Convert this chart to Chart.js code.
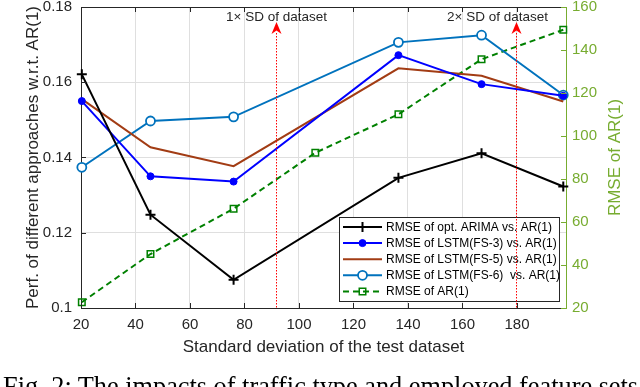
<!DOCTYPE html>
<html>
<head>
<meta charset="utf-8">
<script src="https://cdn.jsdelivr.net/npm/chart.js@4.4.0/dist/chart.umd.min.js"></script>
<style>
  html, body { margin: 0; padding: 0; background: #fff; }
  #wrap { position: relative; width: 640px; height: 387px; overflow: hidden; }
  #caption { position: absolute; left: 3px; top: 374px; line-height: 1; font-family: "Liberation Serif", "DejaVu Serif", serif; font-size: 26.3px; white-space: nowrap; color: #000; }
</style>
</head>
<body>
<div id="wrap">
  <canvas id="myChart" width="640" height="387"></canvas>
  <div id="caption">Fig. 2: The impacts of traffic type and employed feature sets</div>
</div>
<script>
// values
var sdPoints   = [20.3, 45.5, 76, 136.5, 167, 197];
var sdPointsAr = [20.3, 45.5, 76, 106, 136.5, 167, 197];
var arimaVsAr  = [0.1621, 0.1248, 0.1075, 0.1346, 0.1411, 0.1323];
var lstm3VsAr  = [0.1550, 0.1350, 0.1336, 0.1672, 0.1595, 0.1564];
var lstm5VsAr  = [0.1555, 0.1427, 0.1377, 0.1637, 0.1617, 0.1549];
var lstm6VsAr  = [0.1374, 0.1497, 0.1508, 0.1706, 0.1725, 0.1566];
var rmseAr     = [22.7, 45.1, 66.2, 92.2, 110.1, 135.7, 149.4];

var sdMarks      = [91.7, 179.5];
var sdMarkLabels = ['1\u00d7 SD of dataset', '2\u00d7 SD of dataset'];

var xTicks      = [20, 40, 60, 80, 100, 120, 140, 160, 180];
var yTicks      = [0.1, 0.12, 0.14, 0.16, 0.18];
var yTickLabels = ['0.1', '0.12', '0.14', '0.16', '0.18'];
var y2Ticks     = [20, 40, 60, 80, 100, 120, 140, 160];

var FONT = '"Liberation Sans", Arial, sans-serif';
var AXIS = '#262626';
var GRID = '#dfdfdf';
var GREEN_AXIS = '#77AC30';

function pairs(xs, ys) {
    return ys.map((v, i) => ({ x: xs[i], y: v }));
}

function setTicks(list) {
    return function (scale) {
        scale.ticks = list.map(v => ({ value: v }));
    };
}

// fixed box sizes so the plot area lands where the figure has it
function fitWidth(w) {
    return function (s) {
        s.width = w;
        s.paddingTop = 0;
        s.paddingBottom = 0;
    };
}

var overlay = {
    id: 'overlay',
    afterDraw: function (chart) {
        var ctx = chart.ctx;
        var area = chart.chartArea;
        var xs = chart.scales.x, ys = chart.scales.y, y2 = chart.scales.y2;

        ctx.save();
        // top frame
        ctx.strokeStyle = AXIS;
        ctx.lineWidth = 1;
        ctx.beginPath();
        ctx.moveTo(area.left, area.top + 0.5);
        ctx.lineTo(area.right, area.top + 0.5);
        ctx.stroke();

        // inward ticks
        ctx.beginPath();
        xTicks.forEach(v => {
            var px = Math.round(xs.getPixelForValue(v)) + 0.5;
            ctx.moveTo(px, area.bottom); ctx.lineTo(px, area.bottom - 5);
            ctx.moveTo(px, area.top); ctx.lineTo(px, area.top + 5);
        });
        yTicks.forEach(v => {
            var py = Math.round(ys.getPixelForValue(v)) + 0.5;
            ctx.moveTo(area.left, py); ctx.lineTo(area.left + 5, py);
        });
        ctx.stroke();
        ctx.strokeStyle = GREEN_AXIS;
        ctx.beginPath();
        y2Ticks.forEach(v => {
            var py = Math.round(y2.getPixelForValue(v)) + 0.5;
            ctx.moveTo(area.right, py); ctx.lineTo(area.right - 5, py);
        });
        ctx.stroke();

        // right axis title, reads bottom to top
        ctx.fillStyle = GREEN_AXIS;
        ctx.font = '17px ' + FONT;
        ctx.textAlign = 'center';
        ctx.textBaseline = 'middle';
        ctx.translate(615, (area.top + area.bottom) / 2);
        ctx.rotate(-Math.PI / 2);
        ctx.fillText('RMSE of AR(1)', 0, 0);
        ctx.restore();

        drawLegend(chart);

        // SD markers
        ctx.save();
        ctx.font = '13.5px ' + FONT;
        ctx.textAlign = 'center';
        ctx.textBaseline = 'middle';
        sdMarks.forEach((v, i) => {
            var px = Math.round(xs.getPixelForValue(v)) + 0.5;
            ctx.strokeStyle = '#ff0000';
            ctx.lineWidth = 1;
            ctx.setLineDash([1.5, 1.5]);
            ctx.beginPath();
            ctx.moveTo(px, area.top + 26);
            ctx.lineTo(px, area.bottom);
            ctx.stroke();
            ctx.setLineDash([]);
            ctx.fillStyle = '#ff0000';
            ctx.beginPath();
            ctx.moveTo(px, area.top + 15);
            ctx.lineTo(px + 5, area.top + 27);
            ctx.lineTo(px, area.top + 23.5);
            ctx.lineTo(px - 5, area.top + 27);
            ctx.closePath();
            ctx.fill();
            var w = ctx.measureText(sdMarkLabels[i]).width;
            var cx = Math.min(px, area.right - 18 - w / 2);
            ctx.fillStyle = AXIS;
            ctx.fillText(sdMarkLabels[i], cx, area.top + 10);
        });
        ctx.restore();
    }
};

function drawLegend(chart) {
    var ctx = chart.ctx;
    var area = chart.chartArea;
    var w = 220, h = 84;
    var x0 = area.right - 7 - w, y0 = area.bottom - 7 - h;
    ctx.save();
    ctx.fillStyle = '#fff';
    ctx.fillRect(x0, y0, w, h);
    ctx.strokeStyle = AXIS;
    ctx.lineWidth = 1;
    ctx.strokeRect(Math.round(x0) + 0.5, Math.round(y0) + 0.5, w, h);
    ctx.font = '12px ' + FONT;
    ctx.textBaseline = 'middle';
    chart.data.datasets.forEach((ds, i) => {
        var cy = y0 + 10 + i * 16.1;
        ctx.strokeStyle = ds.borderColor;
        ctx.lineWidth = ds.borderWidth;
        ctx.setLineDash(ds.borderDash || []);
        ctx.beginPath();
        ctx.moveTo(x0 + 4, cy);
        ctx.lineTo(x0 + 43, cy);
        ctx.stroke();
        ctx.setLineDash([]);
        if (ds.pointRadius > 0) {
            ctx.fillStyle = ds.pointBackgroundColor;
            ctx.lineWidth = ds.pointBorderWidth;
            Chart.helpers.drawPoint(ctx, {
                pointStyle: ds.pointStyle,
                radius: ds.pointRadius,
                rotation: 0,
                borderWidth: ds.pointBorderWidth
            }, x0 + 23.5, cy);
        }
        ctx.fillStyle = '#000';
        ctx.fillText(ds.label, x0 + 47, cy + 0.5);
    });
    ctx.restore();
}

function createChart() {
    var ctx = document.getElementById('myChart').getContext('2d');
    return new Chart(ctx, {
        type: 'line',
        data: {
            datasets: [{
                label: 'RMSE of opt. ARIMA vs. AR(1)',
                data: pairs(sdPoints, arimaVsAr),
                yAxisID: 'y',
                borderColor: '#000000',
                borderWidth: 2,
                pointStyle: 'cross',
                pointRadius: 5,
                pointBorderWidth: 2,
                pointBorderColor: '#000000',
                pointBackgroundColor: '#000000'
            }, {
                label: 'RMSE of LSTM(FS-3) vs. AR(1)',
                data: pairs(sdPoints, lstm3VsAr),
                yAxisID: 'y',
                borderColor: '#0000ff',
                borderWidth: 2,
                pointStyle: 'circle',
                pointRadius: 3.5,
                pointBorderWidth: 1,
                pointBorderColor: '#0000ff',
                pointBackgroundColor: '#0000ff'
            }, {
                label: 'RMSE of LSTM(FS-5) vs. AR(1)',
                data: pairs(sdPoints, lstm5VsAr),
                yAxisID: 'y',
                borderColor: '#a23c14',
                borderWidth: 2,
                pointRadius: 0,
                pointBorderWidth: 0,
                pointBackgroundColor: '#a23c14'
            }, {
                label: 'RMSE of LSTM(FS-6)  vs. AR(1)',
                data: pairs(sdPoints, lstm6VsAr),
                yAxisID: 'y',
                borderColor: '#0072bd',
                borderWidth: 2,
                pointStyle: 'circle',
                pointRadius: 4.5,
                pointBorderWidth: 1.8,
                pointBorderColor: '#0072bd',
                pointBackgroundColor: '#ffffff'
            }, {
                label: 'RMSE of AR(1)',
                data: pairs(sdPointsAr, rmseAr),
                yAxisID: 'y2',
                borderColor: '#008000',
                borderWidth: 2,
                borderDash: [6, 4],
                pointStyle: 'rect',
                pointRadius: 4.6,
                pointBorderWidth: 1.5,
                pointBorderColor: '#008000',
                pointBackgroundColor: 'rgba(0,0,0,0)'
            }]
        },
        options: {
            responsive: false,
            animation: false,
            layout: { padding: { top: 7, left: 0, right: 0, bottom: 0 } },
            elements: { line: { tension: 0 } },
            datasets: { line: { clip: false } },
            plugins: { legend: { display: false }, tooltip: { enabled: false } },
            scales: {
                x: {
                    type: 'linear',
                    min: 20,
                    max: 198,
                    afterBuildTicks: setTicks(xTicks),
                    afterFit: function (s) { s.height = 79; s.paddingLeft = 0; s.paddingRight = 0; },
                    grid: { color: GRID, drawTicks: false },
                    border: { color: AXIS, width: 1 },
                    ticks: { padding: 8, color: AXIS, font: { family: FONT, size: 15 }, maxRotation: 0 },
                    title: {
                        display: true,
                        text: 'Standard deviation of the test dataset',
                        color: AXIS,
                        font: { family: FONT, size: 17 },
                        padding: { top: 0, bottom: 29 }
                    }
                },
                y: {
                    position: 'left',
                    min: 0.1,
                    max: 0.18,
                    afterBuildTicks: setTicks(yTicks),
                    afterFit: fitWidth(81),
                    grid: { color: GRID, drawTicks: false },
                    border: { color: AXIS, width: 1 },
                    ticks: {
                        padding: 9, color: AXIS, font: { family: FONT, size: 15 },
                        callback: function (v, i) { return yTickLabels[i]; }
                    },
                    title: {
                        display: true,
                        text: 'Perf. of different approaches w.r.t. AR(1)',
                        color: AXIS,
                        font: { family: FONT, size: 17 },
                        padding: { top: 23, bottom: 0 }
                    }
                },
                y2: {
                    position: 'right',
                    min: 20,
                    max: 160,
                    afterBuildTicks: setTicks(y2Ticks),
                    afterFit: fitWidth(74),
                    grid: { display: false, drawTicks: false },
                    border: { color: GREEN_AXIS, width: 1 },
                    ticks: { padding: 6, color: GREEN_AXIS, font: { family: FONT, size: 15 } }
                }
            }
        },
        plugins: [overlay]
    });
}

var myChart = createChart();
</script>
</body>
</html>
